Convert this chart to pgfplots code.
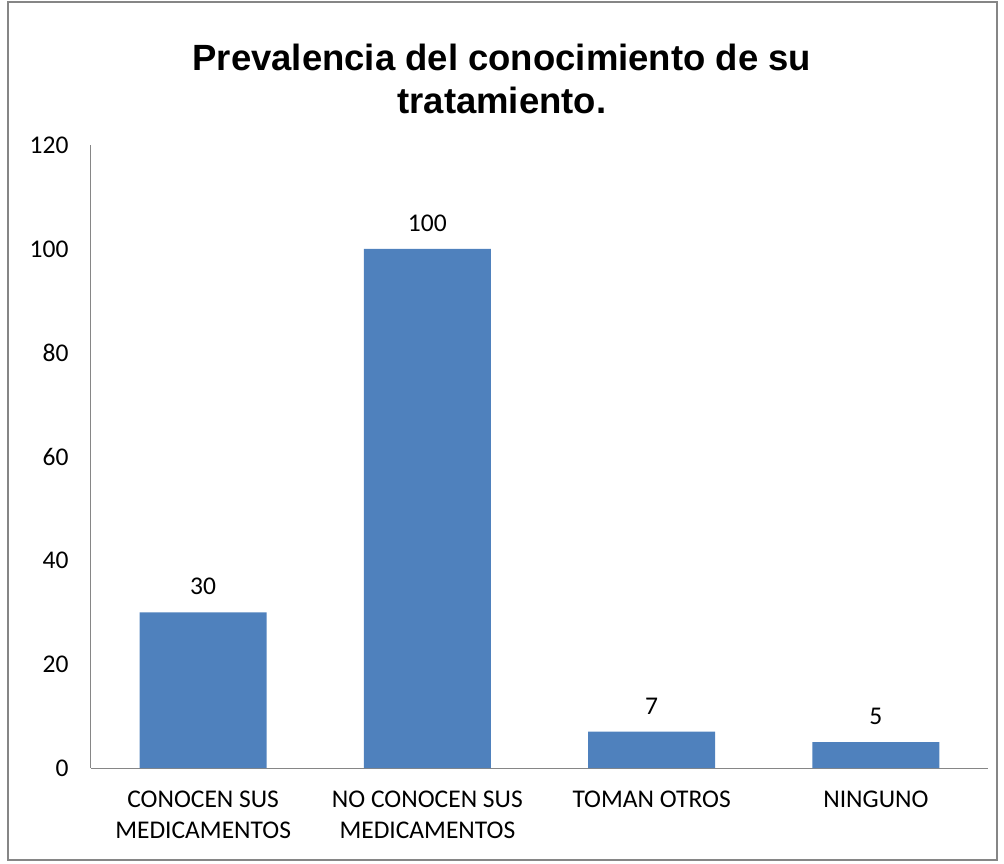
\documentclass[border=0pt]{standalone}
\usepackage{pgfplots}
\pgfplotsset{compat=1.18}
\usepackage{fontspec}
\setmainfont{Carlito}
\newfontfamily\titlefont{Liberation Sans}
\definecolor{barblue}{HTML}{4F81BD}
\definecolor{axgray}{HTML}{868686}
\begin{document}
\begin{tikzpicture}[x=1pt,y=1pt]
\useasboundingbox (-91,-95) rectangle (913,768);
\draw[axgray, line width=1.2pt] (-83,-92) rectangle (906,766);
\begin{axis}[
  at={(0,0)}, anchor=south west,
  scale only axis, width=897pt, height=623pt,
  xmin=-0.5, xmax=3.5, ymin=0, ymax=120,
  axis lines*=left,
  axis line style={axgray, line width=1pt, -},
  ytick={0,20,40,60,80,100,120},
  xtick=data,
  xticklabels={{CONOCEN SUS\\MEDICAMENTOS},{NO CONOCEN SUS\\MEDICAMENTOS},{TOMAN OTROS},{NINGUNO}},
  major tick length=0pt,
  tick label style={font=\fontsize{25.5}{31}\selectfont, text=black},
  xticklabel style={align=center, yshift=-19pt, anchor=north},
  yticklabel style={xshift=-19pt},
  /pgf/number format/assume math mode=true,
  title={Prevalencia del conocimiento de su\\tratamiento.},
  title style={font=\titlefont\bfseries\fontsize{36.5}{43}\selectfont, align=center, at={(0.458,1)}, anchor=south, yshift=22pt},
  nodes near coords,
  nodes near coords style={font=\fontsize{25.5}{30}\selectfont, text=black, yshift=14pt},
  bar width=127pt,
]
\addplot[ybar, fill=barblue, draw=none] coordinates {(0,30) (1,100) (2,7) (3,5)};
\end{axis}
\end{tikzpicture}
\end{document}
